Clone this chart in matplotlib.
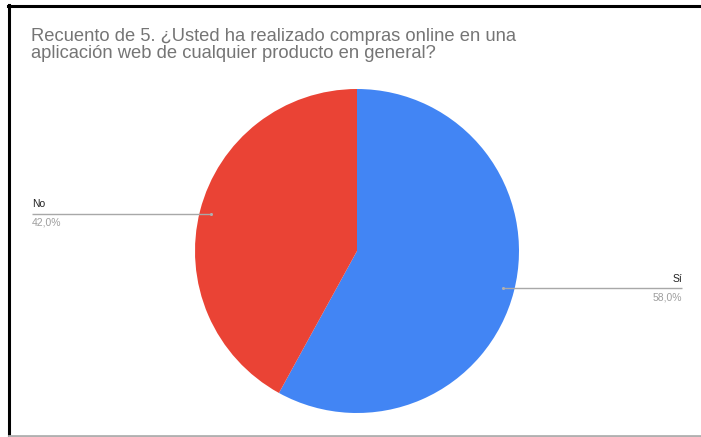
import numpy as np
import matplotlib
matplotlib.use("Agg")
import matplotlib.pyplot as plt
from matplotlib.lines import Line2D

plt.rcParams['font.family'] = ['Liberation Sans', 'DejaVu Sans']

title = "Recuento de 5. ¿Usted ha realizado compras online en una\naplicación web de cualquier producto en general?"
categories = ["Sí", "No"]
values = [58.0, 42.0]
colors = ["#4285f4", "#ea4335"]
pct_labels = ["58,0%", "42,0%"]

W, H = 701, 437
fig = plt.figure(figsize=(W / 100, H / 100), dpi=100)
fig.patch.set_facecolor("white")

# pie axes: centre (357, 251) px, radius 162 px
cx, cy, r = 357, 251, 162
ax = fig.add_axes([(cx - r) / W, (H - cy - r) / H, 2 * r / W, 2 * r / H])
wedges, _ = ax.pie(values, colors=colors, startangle=90, counterclock=False,
                   radius=1.0, wedgeprops=dict(linewidth=0))
ax.set_xlim(-1, 1)
ax.set_ylim(-1, 1)
ax.set_aspect("equal")
ax.axis("off")

# leader lines and labels
for w, cat, pct in zip(wedges, categories, pct_labels):
    mid = np.deg2rad((w.theta1 + w.theta2) / 2)
    ax_x, ax_y = 0.93 * np.cos(mid), 0.93 * np.sin(mid)
    side = 1 if np.cos(mid) > 0 else -1
    end_x = 2.006 * side
    ax.plot([ax_x, end_x], [ax_y, ax_y], color="#a8a8a8", lw=1.0,
            clip_on=False, solid_capstyle="butt")
    ax.plot([ax_x], [ax_y], marker="o", ms=2.2, color="#b0b0b0",
            mec="none", clip_on=False)
    ha = "right" if side > 0 else "left"
    ax.text(end_x, ax_y + 0.025, cat, ha=ha, va="bottom", fontsize=7.5,
            color="#222222", clip_on=False)
    ax.text(end_x, ax_y - 0.025, pct, ha=ha, va="top", fontsize=7.5,
            color="#9e9e9e", clip_on=False)

# title
fig.text(31 / W, 1 - 28 / H, title, ha="left", va="top", fontsize=13.2,
         color="#757575", linespacing=0.98)

# border
fig.add_artist(Line2D([9 / W, 9 / W], [0, 1 - 5 / H], color="black", lw=2.2,
                      transform=fig.transFigure))
fig.add_artist(Line2D([8 / W, 1], [1 - 6 / H, 1 - 6 / H], color="black", lw=2.2,
                      transform=fig.transFigure))
fig.add_artist(Line2D([9 / W, 1], [1.5 / H, 1.5 / H], color="#b0b0b0", lw=2.0,
                      transform=fig.transFigure))

fig.savefig("out.png", dpi=100, facecolor="white")
